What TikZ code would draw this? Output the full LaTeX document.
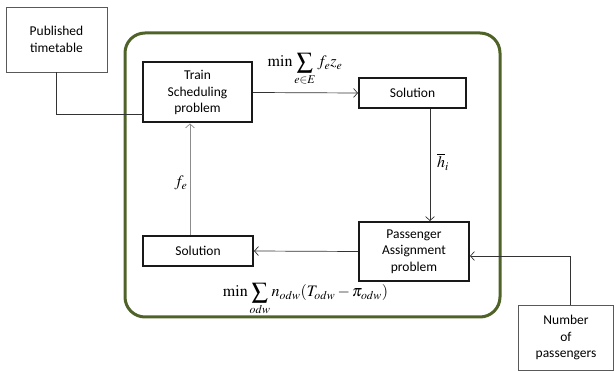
\documentclass[tikz,border=0pt]{standalone}
\usepackage{mathptmx}
\usepackage[no-math]{fontspec}
\setmainfont{Carlito}
\usetikzlibrary{arrows.meta}
\definecolor{olive}{HTML}{4F6228}
\definecolor{conn}{HTML}{333333}
\tikzset{
  inner/.style={draw=black!90, line width=2pt, align=center, font=\fontsize{13.5}{16.5}\selectfont, inner sep=0pt},
  outer/.style={draw=black!65, line width=0.8pt, align=center, font=\fontsize{13.5}{16.5}\selectfont, inner sep=0pt},
  link/.style={draw=conn, line width=0.7pt},
  arr/.style={link, -{Straight Barb[length=4pt,width=9pt,line width=0.7pt]}},
  lab/.style={font=\fontsize{16}{18}\selectfont, inner sep=0pt}
}
\begin{document}
\begin{tikzpicture}[x=1pt,y=-1pt]
\useasboundingbox (0,0) rectangle (616,371);
\draw[olive, line width=3pt, rounded corners=20pt] (125,33) rectangle (500,317);
\node[outer, minimum width=101pt, minimum height=65pt] (pub) at (56.5,39.5) {Published\\timetable};
\node[inner, minimum width=109pt, minimum height=60pt] (train) at (197.5,92.5) {Train\\Scheduling\\problem};
\node[inner, minimum width=107pt, minimum height=30pt] (sol1) at (412.5,93) {Solution};
\node[inner, minimum width=110pt, minimum height=59pt] (pas) at (414,251.5) {Passenger\\Assignment\\problem};
\node[inner, minimum width=110pt, minimum height=30pt] (sol2) at (198,251) {Solution};
\node[outer, minimum width=95pt, minimum height=65pt] (num) at (566,337.5) {Number\\of\\passengers};
\coordinate (tin) at (143,114);
\coordinate (xa) at (430,0);
\coordinate (xb) at (190,0);
\coordinate (xc) at (570,0);
\coordinate (yc) at (0,256);
\draw[link] (pub.south) |- (tin);
\draw[arr] (train.east) -- (sol1.west);
\draw[arr] (sol1.south -| xa) -- (pas.north -| xa);
\draw[arr] (pas.west) -- (sol2.east);
\draw[arr, draw=black!45] (sol2.north -| xb) -- (train.south -| xb);
\draw[arr] (num.north -| xc) |- (pas.east |- yc);
\node[lab, anchor=base] (m1) at (305,67) {$\min\displaystyle\sum_{e\in E} f_e z_e$};
\node[lab] (h) at (443,162) {$\overline{h}_i$};
\node[lab] (f) at (181,183) {$f_e$};
\node[lab, anchor=base] (m2) at (305.5,297) {$\min\displaystyle\sum_{odw} n_{odw}(T_{odw}-\pi_{odw})$};
\end{tikzpicture}
\end{document}
